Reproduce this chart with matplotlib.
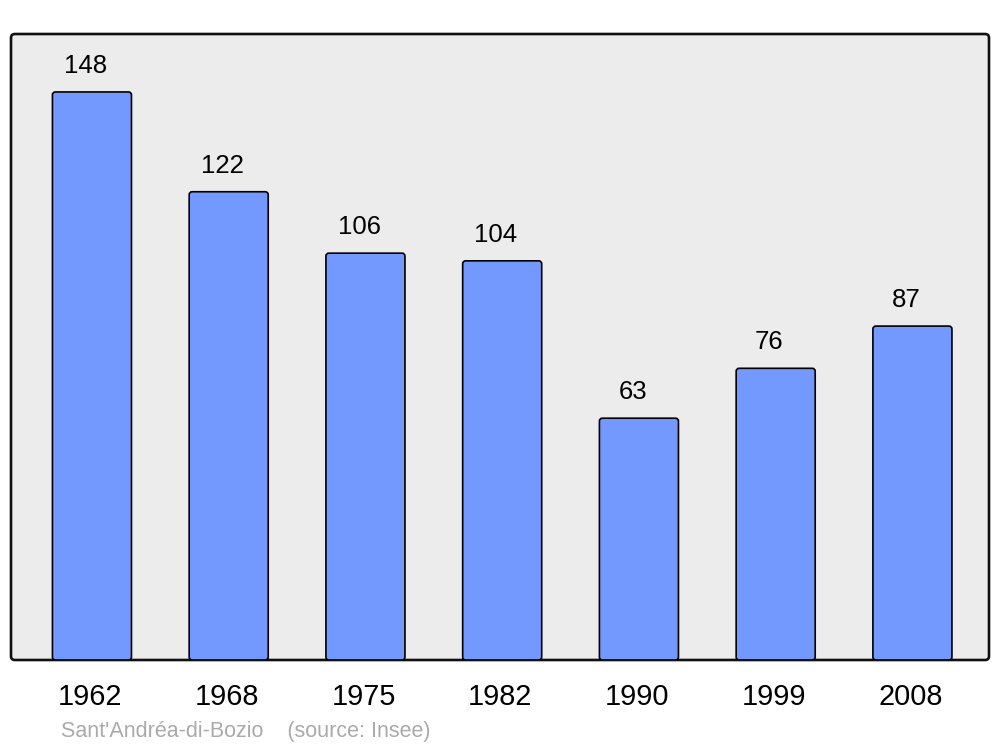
import matplotlib
matplotlib.use("Agg")
import matplotlib.pyplot as plt
import matplotlib.transforms as mtransforms
from matplotlib.patches import FancyBboxPatch

years = ["1962", "1968", "1975", "1982", "1990", "1999", "2008"]
population = [148, 122, 106, 104, 63, 76, 87]
footer = "Sant'Andréa-di-Bozio    (source: Insee)"

plt.rcParams['font.family'] = ['Liberation Sans', 'DejaVu Sans']

W, H = 1000, 747
fig = plt.figure(figsize=(W / 100, H / 100), dpi=100)
ax = fig.add_axes([11 / W, (H - 660) / H, 978 / W, 626 / H])
ax.set_xlim(-0.592, 6.56)
ax.set_ylim(0, 163.1)
ax.set_facecolor('none')

for s in ax.spines.values():
    s.set_visible(False)

frame = FancyBboxPatch((0, 0), 1, 1, boxstyle="round,pad=0,rounding_size=0.004",
                       transform=ax.transAxes, facecolor='#ececec', edgecolor='#111111',
                       linewidth=1.9, zorder=0, clip_on=False,
                       mutation_aspect=978 / 626)
ax.add_patch(frame)

xs = list(range(len(years)))
bars = ax.bar(xs, population, width=0.578, color='#7399ff', edgecolor='black', linewidth=1.2)
px_x = 978 / (6.56 + 0.592)
px_y = 626 / 163.1
for b in bars:
    b.set_visible(False)
    p = FancyBboxPatch((b.get_x(), 0), b.get_width(), b.get_height(),
                       boxstyle="round,pad=0,rounding_size=%f" % (3 / px_x),
                       mutation_aspect=px_x / px_y,
                       facecolor='#7399ff', edgecolor='black', linewidth=1.2, zorder=2)
    ax.add_patch(p)

for x, v in zip(xs, population):
    ax.annotate(str(v), (x, v), xytext=(-4.5, 18.8), textcoords='offset points',
                ha='center', va='center', fontsize=18.5, color='black')

ax.set_xticks(xs)
ax.set_xticklabels(years, fontsize=20.8)
ax.tick_params(axis='x', length=0, pad=16.5)
ax.set_yticks([])
off = mtransforms.ScaledTranslation(-2 / 100, 0, fig.dpi_scale_trans)
for lbl in ax.get_xticklabels():
    lbl.set_transform(lbl.get_transform() + off)

fig.text(61 / W, 1 - 731 / H, footer, fontsize=15.5, color='#aaaaaa', ha='left', va='center')

fig.savefig('out.png', dpi=100)
